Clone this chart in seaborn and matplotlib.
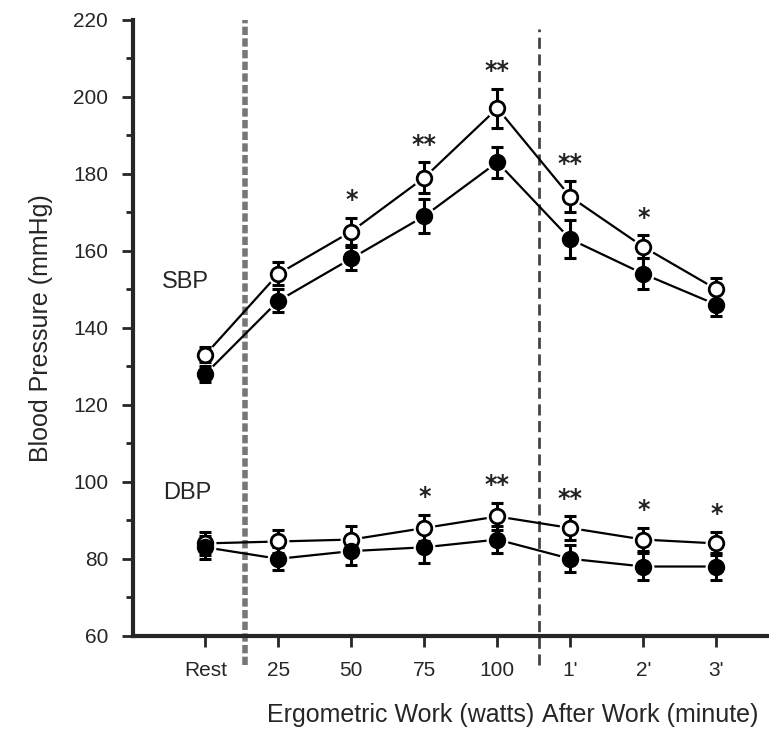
import pandas as pd
import matplotlib.pyplot as plt
import seaborn as sns
from matplotlib.ticker import MultipleLocator

sns.set_style("ticks")
plt.rcParams['font.family'] = ['Liberation Sans', 'DejaVu Sans']

# x categories (positions 0..7)
stages = ['Rest', '25', '50', '75', '100', "1'", "2'", "3'"]

# systolic blood pressure: open circles / filled circles
sbp_open = [133, 154, 165, 179, 197, 174, 161, 150]
sbp_open_err = [2, 3, 3.5, 4, 5, 4, 3, 3]
sbp_filled = [128, 147, 158, 169, 183, 163, 154, 146]
sbp_filled_err = [2, 3, 3, 4.5, 4, 5, 4, 3]

# diastolic blood pressure
dbp_open = [84, 84.5, 85, 88, 91, 88, 85, 84]
dbp_open_err = [3, 3, 3.5, 3.5, 3.5, 3, 3, 3]
dbp_filled = [83, 80, 82, 83, 85, 80, 78, 78]
dbp_filled_err = [3, 3, 3.5, 4, 3.5, 3.5, 3.5, 3.5]

# significance marks over the open series
sbp_stars = ['', '', '*', '**', '**', '**', '*', '']
dbp_stars = ['', '', '', '*', '**', '**', '*', '*']

x = list(range(len(stages)))

fig = plt.figure(figsize=(7.69, 7.3), dpi=100)
ax = fig.add_axes([0.173, 0.129, 0.826, 0.844])

series = [
    (sbp_open, sbp_open_err, 'white'),
    (sbp_filled, sbp_filled_err, 'black'),
    (dbp_open, dbp_open_err, 'white'),
    (dbp_filled, dbp_filled_err, 'black'),
]

for vals, errs, fc in series:
    df = pd.DataFrame({'x': x, 'y': vals})
    sns.lineplot(data=df, x='x', y='y', ax=ax, color='black', lw=1.6,
                 marker='o', markersize=15, markerfacecolor='white',
                 markeredgecolor='white', zorder=2)
    ax.errorbar(x, vals, yerr=errs, fmt='none', ecolor='black',
                elinewidth=2.2, capsize=4.5, capthick=2.2, zorder=3)
    ax.plot(x, vals, 'o', ms=10.5, mfc=fc, mec='black', mew=2, zorder=4)

# significance asterisks
for vals, errs, stars in [(sbp_open, sbp_open_err, sbp_stars),
                          (dbp_open, dbp_open_err, dbp_stars)]:
    for xi, v, e, s in zip(x, vals, errs, stars):
        if s:
            ax.annotate(s, (xi, v + e), xytext=(0, 4), textcoords='offset points',
                        ha='center', va='bottom', fontsize=17, color='#222222',
                        family='DejaVu Sans', fontweight='bold')

# group separators
ax.axvline(0.55, ymin=-0.047, ymax=1.0, color='#777777', lw=4,
           ls=(0, (1.5, 0.6)), clip_on=False, zorder=1)
ax.axvline(4.57, ymin=-0.047, ymax=0.985, color='#444444', lw=2,
           ls=(0, (4, 2)), clip_on=False, zorder=1)

ax.text(-0.27, 152, 'SBP', fontsize=17, ha='center', va='center')
ax.text(-0.25, 97, 'DBP', fontsize=17, ha='center', va='center')

ax.set_xlim(-0.99, 7.71)
ax.set_ylim(60, 220)
ax.set_xticks(x)
ax.set_xticklabels(stages, fontsize=15)
ax.yaxis.set_major_locator(MultipleLocator(20))
ax.yaxis.set_minor_locator(MultipleLocator(10))
ax.tick_params(axis='y', which='major', length=8, width=2, labelsize=15, pad=10)
ax.tick_params(axis='y', which='minor', length=5, width=2)
ax.tick_params(axis='x', length=8, width=2, pad=10)
ax.set_ylabel('Blood Pressure (mmHg)', fontsize=18, labelpad=14)
ax.set_xlabel('')

for side in ['top', 'right']:
    ax.spines[side].set_visible(False)
for side in ['left', 'bottom']:
    ax.spines[side].set_linewidth(3)

trans = ax.get_xaxis_transform()
ax.text(2.67, -0.128, 'Ergometric Work (watts)', transform=trans,
        ha='center', va='center', fontsize=18)
ax.text(6.1, -0.128, 'After Work (minute)', transform=trans,
        ha='center', va='center', fontsize=18)

fig.savefig('out.png', dpi=100)
